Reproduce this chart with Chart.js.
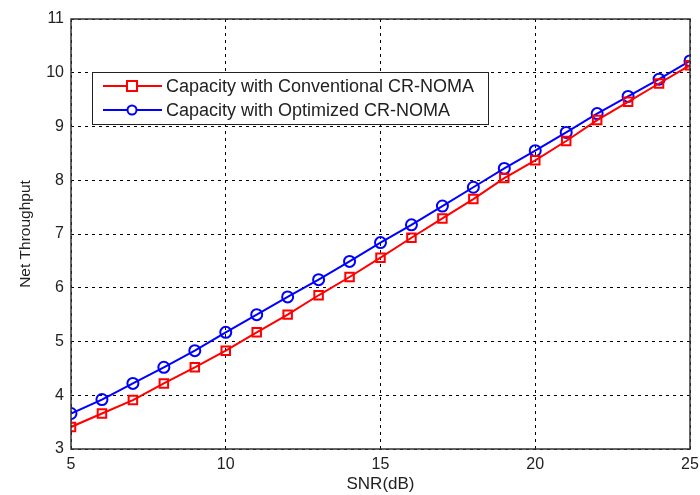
<!DOCTYPE html>
<html>
<head>
<meta charset="utf-8">
<script src="https://cdn.jsdelivr.net/npm/chart.js@4/dist/chart.umd.min.js"></script>
<style>
  html, body { margin: 0; padding: 0; background: #fff; }
  #wrap { width: 700px; height: 495px; position: relative; }
</style>
</head>
<body>
<div id="wrap"><canvas id="chart"></canvas></div>
<script>
// data
const snr = [5, 6, 7, 8, 9, 10, 11, 12, 13, 14, 15, 16, 17, 18, 19, 20, 21, 22, 23, 24, 25];
const conventional = [3.41, 3.66, 3.91, 4.22, 4.52, 4.83, 5.17, 5.50, 5.86, 6.20, 6.56, 6.93, 7.29, 7.65, 8.04, 8.37, 8.73, 9.12, 9.46, 9.80, 10.14];
const optimized = [3.66, 3.92, 4.22, 4.52, 4.83, 5.17, 5.50, 5.83, 6.15, 6.49, 6.84, 7.17, 7.52, 7.87, 8.22, 8.55, 8.89, 9.24, 9.56, 9.88, 10.22];
const seriesNames = ['Capacity with Conventional CR-NOMA', 'Capacity with Optimized CR-NOMA'];
const xTicks = [5, 10, 15, 20, 25];
const yTicks = [3, 4, 5, 6, 7, 8, 9, 10, 11];

const FONT = '"Liberation Sans", Arial, sans-serif';

// box around the plot + matlab style legend
const boxPlugin = {
    id: 'box',
    afterDraw(chart) {
        const { ctx, chartArea: a } = chart;
        ctx.save();
        ctx.strokeStyle = '#333';
        ctx.lineWidth = 1.5;
        ctx.strokeRect(a.left, a.top, a.right - a.left, a.bottom - a.top);

        // legend
        const lx = 92, ly = 72, lw = 396, lh = 52;
        ctx.fillStyle = '#fff';
        ctx.fillRect(lx, ly, lw, lh);
        ctx.strokeStyle = '#222';
        ctx.lineWidth = 1;
        ctx.strokeRect(lx + 0.5, ly + 0.5, lw, lh);
        const sets = chart.data.datasets;
        const rows = [86, 110];
        sets.forEach((ds, i) => {
            const y = rows[i];
            ctx.strokeStyle = ds.borderColor;
            ctx.lineWidth = 2;
            ctx.beginPath();
            ctx.moveTo(103, y);
            ctx.lineTo(162, y);
            ctx.stroke();
            ctx.fillStyle = '#fff';
            if (ds.pointStyle === 'rect') {
                ctx.fillRect(127, y - 5, 10, 10);
                ctx.strokeRect(127, y - 5, 10, 10);
            } else {
                ctx.beginPath();
                ctx.arc(132, y, 4.5, 0, Math.PI * 2);
                ctx.fill();
                ctx.stroke();
            }
            ctx.fillStyle = '#222';
            ctx.font = '18px ' + FONT;
            ctx.textBaseline = 'middle';
            ctx.textAlign = 'left';
            ctx.fillText(ds.label, 166, y + 1);
        });
        ctx.restore();
    }
};

new Chart(document.getElementById('chart'), {
    type: 'line',
    data: {
        datasets: [
            {
                label: seriesNames[0],
                data: snr.map((x, i) => ({ x: x, y: conventional[i] })),
                borderColor: '#ff0000',
                backgroundColor: 'rgba(0,0,0,0)',
                borderWidth: 2,
                pointStyle: 'rect',
                pointRadius: 6,
                pointBorderWidth: 2,
                pointBorderColor: '#ff0000',
                tension: 0
            },
            {
                label: seriesNames[1],
                data: snr.map((x, i) => ({ x: x, y: optimized[i] })),
                borderColor: '#0000ff',
                backgroundColor: 'rgba(0,0,0,0)',
                borderWidth: 2,
                pointStyle: 'circle',
                pointRadius: 5.5,
                pointBorderWidth: 2,
                pointBorderColor: '#0000ff',
                tension: 0
            }
        ]
    },
    options: {
        responsive: true,
        maintainAspectRatio: false,
        animation: false,
        layout: { padding: { top: 19, right: 10, left: 16, bottom: 0 } },
        plugins: {
            legend: { display: false },
            tooltip: { enabled: false }
        },
        scales: {
            x: {
                type: 'linear',
                min: 5, max: 25,
                afterBuildTicks: s => { s.ticks = xTicks.map(v => ({ value: v })); },
                afterFit: s => { s.height = 46; s.paddingRight = 0; },
                grid: { color: '#000', lineWidth: 1, drawTicks: false },
                border: { display: false, dash: [3, 4] },
                ticks: { color: '#222', font: { family: FONT, size: 16 }, padding: 6, maxRotation: 0 },
                title: { display: true, text: 'SNR(dB)', color: '#222', font: { family: FONT, size: 17 }, padding: { top: 2, bottom: 0 } }
            },
            y: {
                min: 3, max: 11,
                afterBuildTicks: s => { s.ticks = yTicks.map(v => ({ value: v })); },
                afterFit: s => { s.width = 55; },
                grid: { color: '#000', lineWidth: 1, drawTicks: false },
                border: { display: false, dash: [3, 4] },
                ticks: { color: '#222', font: { family: FONT, size: 16 }, padding: 7 },
                title: { display: true, text: 'Net Throughput', color: '#222', font: { family: FONT, size: 15.5 }, padding: { top: 0, bottom: 0 } }
            }
        }
    },
    plugins: [boxPlugin]
});
</script>
</body>
</html>
